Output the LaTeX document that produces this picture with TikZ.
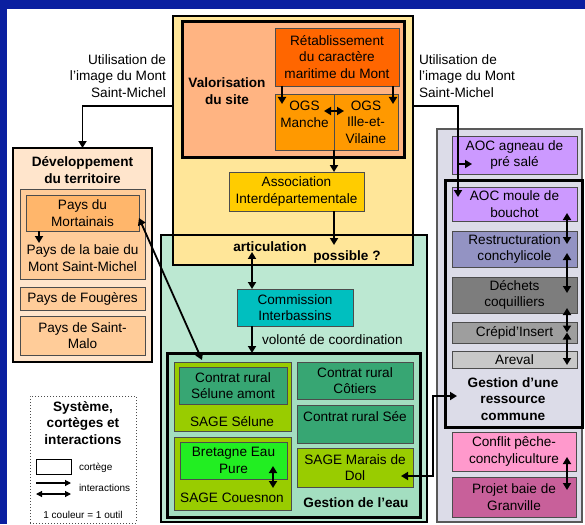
\documentclass[tikz,border=0pt]{standalone}
\usepackage{fontspec}
\setmainfont{Liberation Sans}
\usetikzlibrary{arrows.meta}
\definecolor{bgblue}{HTML}{0A1FA0}
\definecolor{yel}{HTML}{FFE699}
\definecolor{salmon}{HTML}{FFB482}
\definecolor{retab}{HTML}{FF6600}
\definecolor{ogs}{HTML}{FF9900}
\definecolor{asso}{HTML}{FFCC00}
\definecolor{eauL}{HTML}{BCE8D2}
\definecolor{eauD}{HTML}{A3DEC0}
\definecolor{comm}{HTML}{00BFBF}
\definecolor{sage}{HTML}{99CC00}
\definecolor{contrat}{HTML}{37A673}
\definecolor{bep}{HTML}{22EE22}
\definecolor{devL}{HTML}{FFE5CC}
\definecolor{pays}{HTML}{FFCC99}
\definecolor{mortc}{HTML}{FFB66B}
\definecolor{greyL}{HTML}{DCDCE8}
\definecolor{aoc}{HTML}{CC99FF}
\definecolor{restr}{HTML}{9393C3}
\definecolor{dech}{HTML}{7D7D7D}
\definecolor{crep}{HTML}{9E9E9E}
\definecolor{arev}{HTML}{C8C8C8}
\definecolor{confl}{HTML}{FF99CC}
\definecolor{projet}{HTML}{C8609A}
\begin{document}
\begin{tikzpicture}[x=1pt,y=-1pt,
  every node/.style={inner sep=0pt, outer sep=0pt, font=\fontsize{13.6}{16.5}\selectfont},
  rb/.style n args={4}{at={({(#1+#3)/2},{(#2+#4)/2})}, minimum width={(#3-#1)*1pt}, minimum height={(#4-#2)*1pt}},
  bx/.style={draw=black!70, line width=0.9pt, align=center},
  txt/.style={align=center},
  btxt/.style={align=center, font=\fontsize{13.6}{16.5}\selectfont\bfseries},
  arr/.style={line width=1.8pt, -{Triangle[length=7pt,width=8pt]}},
  darr/.style={line width=1.8pt, {Triangle[length=7pt,width=8pt]}-{Triangle[length=7pt,width=8pt]}},
  sarr/.style={line width=1.2pt, -{Triangle[length=6pt,width=6pt]}},
  sdarr/.style={line width=1.2pt, {Triangle[length=6pt,width=6pt]}-{Triangle[length=6pt,width=6pt]}},
]
% background
\fill[bgblue] (0,0) rectangle (585,524);
\fill[white] (7,9) rectangle (585,524);
\useasboundingbox (0,0) rectangle (585,524);

% Gestion de l'eau (outer) fill
\node[fill=eauL, rb={161}{235}{427}{522}] (eau) {};
% Valorisation (yellow)
\node[fill=yel, draw=black, line width=2.5pt, rb={173}{16}{413}{265}] (yel) {};
\draw[line width=2pt] (eau.north west) rectangle (eau.south east);
\node[fill=salmon, draw=black, line width=3pt, rb={182}{22}{404}{157}] (val) {};
\node[btxt] (valt) at (227,91) {Valorisation\\du site};
\node[bx, fill=retab, rb={275}{28}{399}{86}] (ret) {Rétablissement\\du caractère\\maritime du Mont};
\node[bx, fill=ogs, rb={275}{94}{334}{150}] (ogsM) {};
\node[txt] (ogsMt) at (304.5,114.5) {OGS\\Manche};
\node[bx, fill=ogs, rb={334}{94}{398}{150}] (ogsI) {OGS\\Ille-et-\\Vilaine};
\node[bx, fill=asso, rb={229}{172}{364}{211}] (asso) {Association\\Interdépartementale};
\node[btxt] (artic) at (270,247) {articulation};
\node[btxt] (poss) at (347,257) {possible ?};

% Gestion de l'eau content
\node[bx, fill=comm, rb={237}{289}{353}{326}] (comm) {Commission\\Interbassins};
\node[anchor=west] (volo) at (262,340) {volonté de coordination};
\node[fill=eauD, draw=black, line width=3pt, rb={167}{353}{420}{517}] (eauIn) {};
\node[bx, fill=sage, rb={174}{362}{291}{431}] (sel) {};
\node[bx, fill=contrat, rb={179}{367}{287}{404}] (selam) {Contrat rural\\Sélune amont};
\node[txt] (selt) at (232,422) {SAGE Sélune};
\node[bx, fill=sage, rb={174}{437}{291}{510}] (coue) {};
\node[bx, fill=bep, rb={180}{442}{287}{479}] (bret) {Bretagne Eau\\Pure};
\node[txt] (couet) at (232,498) {SAGE Couesnon};
\node[bx, fill=contrat, rb={297}{362}{413}{399}] (cot) {Contrat rural\\Côtiers};
\node[bx, fill=contrat, rb={297}{405}{413}{443}] (see) {};
\node[txt] (seet) at (355,417) {Contrat rural Sée};
\node[bx, fill=sage, rb={297}{448}{413}{487}] (dol) {SAGE Marais de\\Dol};
\node[btxt] (eaut) at (356,503) {Gestion de l’eau};

% Développement du territoire
\node[fill=devL, draw=black, line width=2pt, rb={13}{148}{152}{362}] (dev) {};
\node[btxt] (devt) at (82.5,170) {Développement\\du territoire};
\node[bx, fill=pays, rb={20}{189}{145}{279}] (baie) {};
\node[bx, fill=mortc, rb={26}{195}{139}{231}] (mort) {Pays du\\Mortainais};
\node[txt] (baiet) at (82.5,258) {Pays de la baie du\\Mont Saint-Michel};
\node[bx, fill=pays, rb={20}{287}{145}{310}] (foug) {Pays de Fougères};
\node[bx, fill=pays, rb={20}{316}{145}{355}] (malo) {Pays de Saint-\\Malo};

% Utilisation texts
\node[align=right, anchor=east] (utL) at (166,76) {Utilisation de\\l’image du Mont\\Saint-Michel};
\node[align=left, anchor=west] (utR) at (419,76) {Utilisation de\\l’image du Mont\\Saint-Michel};

% Grey (ressource)
\node[fill=greyL, draw=black!65, line width=1.5pt, rb={437}{129}{582}{522}] (gres) {};
\node[bx, fill=aoc, rb={452}{136}{577}{174}] (aocA) {AOC agneau de\\pré salé};
\node[fill=greyL, draw=black, line width=3pt, rb={445}{180}{582}{427}] (gin) {};
\node[bx, fill=aoc, rb={452}{187}{577}{221}] (aocM) {AOC moule de\\bouchot};
\node[bx, fill=restr, rb={452}{231}{577}{267}] (restr) {Restructuration\\conchylicole};
\node[bx, fill=dech, rb={452}{277}{577}{313}] (dech) {Déchets\\coquilliers};
\node[bx, fill=crep, rb={452}{322}{577}{343}] (crep) {Crépid’Insert};
\node[bx, fill=arev, rb={452}{351}{577}{368}] (arev) {Areval};
\node[btxt] (ginT) at (513,399) {Gestion d’une\\ressource\\commune};
\node[bx, fill=confl, rb={452}{432}{576}{471}] (confl) {Conflit pêche-\\conchyliculture};
\node[bx, fill=projet, rb={452}{477}{576}{517}] (proj) {Projet baie de\\Granville};

% Legend
\node[draw=black!70, dotted, line width=1pt, rb={30}{396}{136}{523}] (leg) {};
\node[btxt] (legt) at (83,423) {Système,\\cortèges et\\interactions};
\node[draw=black, line width=1pt, rb={36}{459}{71}{474}] (legb) {};
\node[anchor=west, font=\fontsize{10}{12}\selectfont] (legc) at (79,468) {cortège};
\node[anchor=west, font=\fontsize{10}{12}\selectfont] (legi) at (79,488) {interactions};
\node[font=\fontsize{10}{12}\selectfont] (legu) at (83,515) {1 couleur = 1 outil};
\coordinate (la1) at (36,483); \coordinate (la2) at (71,483);
\coordinate (lb1) at (36,494); \coordinate (lb2) at (71,494);
\draw[sarr] (la1) -- (la2);
\draw[sdarr] (lb1) -- (lb2);

% Connectors
\coordinate (uL) at (173,106);
\coordinate (uR) at (413,106);
\draw[arr] (uL) -| (dev.north);
\draw[arr] (uR) -| ([xshift=6pt,yshift=-10pt]aocM.north west);
\coordinate (brA) at (458,164);
\draw[arr] (brA) -- ([xshift=20pt,yshift=-9pt]aocA.west);
\draw[arr] ([xshift=7pt]ret.south west) -- ++(0,18);
\draw[arr] ([xshift=-6pt]ret.south east) -- ++(0,18);
\draw[darr] ([xshift=-10pt,yshift=11pt]ogsM.east) -- ([xshift=10pt,yshift=11pt]ogsI.west);
\draw[arr] (ogsI.south west) -- (ogsI.south west |- asso.north);
\draw[arr] (ogsI.south west |- asso.south) -- ++(0,34);
\draw[darr] ([xshift=15pt]comm.north west) -- ([xshift=15pt]comm.north west |- artic.south);
\draw[arr] ([xshift=15pt]comm.south west) -- ([xshift=15pt]comm.south west |- eauIn.north);
\draw[darr] ([yshift=-5pt]mort.east) -- ([xshift=28pt,yshift=2pt]sel.north west);
\draw[arr] ([xshift=13pt]mort.south west) -- ++(0,12);
\coordinate (rTip) at (457,396);
\coordinate (kink) at (433,396);
\draw[darr] ([xshift=-12pt,yshift=-8.5pt]dol.east) -| (kink) -- (rTip);
\draw[darr] ([xshift=-14pt,yshift=13pt]bret.south east) -- ([xshift=-14pt,yshift=-9pt]bret.south east);
\draw[darr] ([xshift=-10pt,yshift=8pt]aocM.south east) -- ([xshift=-10pt,yshift=-13pt]restr.north east);
\draw[darr] ([xshift=-10pt,yshift=14pt]restr.south east) -- ([xshift=-10pt,yshift=-16pt]dech.north east);
\draw[darr] ([xshift=-10pt,yshift=5pt]dech.south east) -- ([xshift=-10pt]crep.east);
\draw[darr] ([xshift=-10pt]crep.east) -- ([xshift=-10pt,yshift=3pt]arev.south east);
\draw[darr] ([xshift=-9pt,yshift=14pt]confl.south east) -- ([xshift=-9pt,yshift=-13pt]proj.north east);
\end{tikzpicture}
\end{document}
